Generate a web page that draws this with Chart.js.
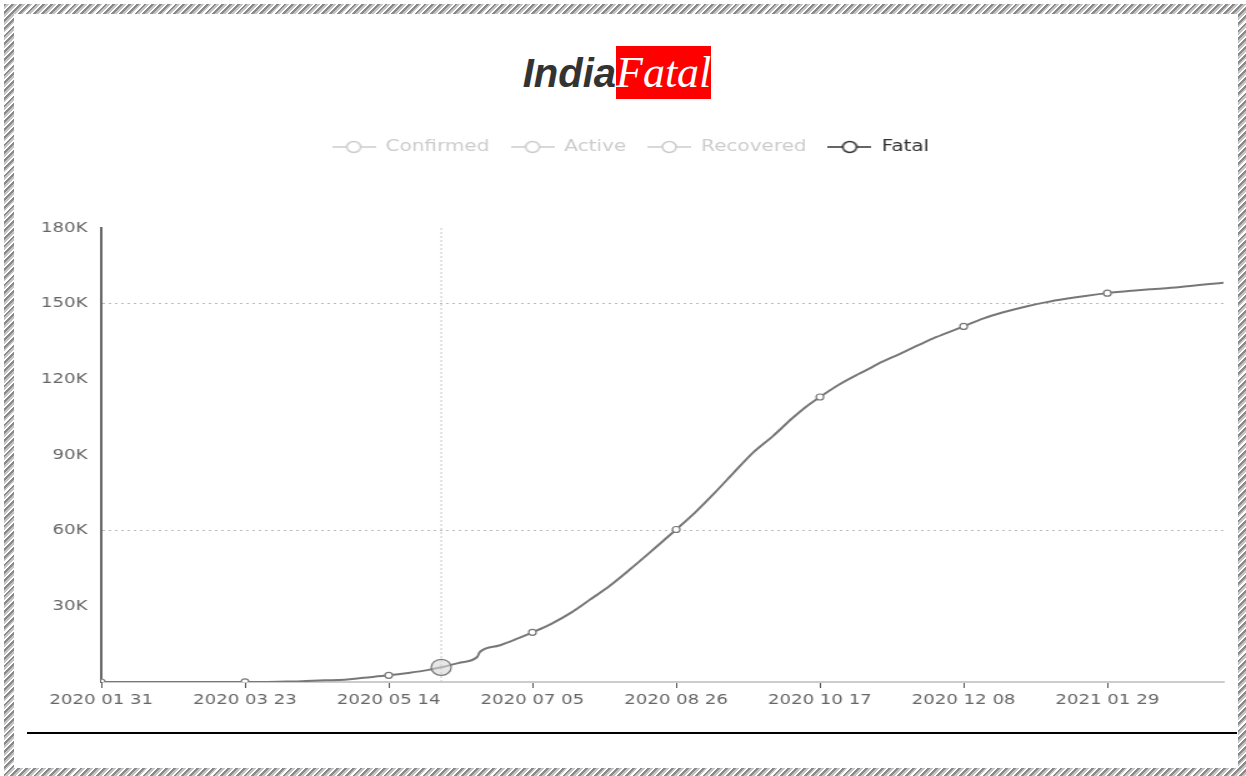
<!DOCTYPE html>
<html><head><meta charset="utf-8">
<script src="https://cdn.jsdelivr.net/npm/chart.js@4.4.1/dist/chart.umd.min.js"></script>
<style>
html,body{margin:0;padding:0;width:1246px;height:776px;overflow:hidden;background:#fff;}
#frame{position:absolute;left:4px;top:4px;width:1242px;height:772px;background:repeating-linear-gradient(135deg,#8a8a8a 0 2px,#c4c4c4 2px 4px,#fff 4px 5.5px);}
#inner{position:absolute;left:10px;top:10px;right:8px;bottom:8px;background:#fff;}
#title{position:absolute;left:-6px;top:46px;width:1246px;text-align:center;height:53px;line-height:53px;white-space:nowrap;}
#title .a{font:italic bold 40px "Liberation Sans",Arial,sans-serif;color:#333;}
#title .b{display:inline-block;font:italic 44px "Liberation Serif","Times New Roman",serif;color:#fff;background:#f00;line-height:53px;}
#rule{position:absolute;left:27px;top:732px;width:1210px;height:2px;background:#000;}
#wrap{position:absolute;left:0;top:0;width:997px;height:776px;transform-origin:0 0;transform:scaleX(1.2497);}
</style></head>
<body>
<div id="frame"><div id="inner"></div></div>
<div id="title"><span class="a">India</span><span class="b">Fatal</span></div>
<div id="rule"></div>
<div id="wrap"><canvas id="c" width="997" height="776"></canvas></div>
<script>
// ---- data ----
const seriesNames = ['Confirmed', 'Active', 'Recovered', 'Fatal'];
const legendColors = ['#cccccc', '#cccccc', '#cccccc', '#333333'];
// day offsets from 2020-01-31
const days = [0,20,30,41,52,60,67,74,81,88,95,104,111,118,123,130,136,137,144,151,156,163,170,177,184,191,198,208,215,222,229,236,243,250,255,260,267,274,278,281,288,295,302,312,319,326,335,342,349,356,364,373,380,387,394,401,406];
const fatal = [0,0,0,1,10,49,149,377,645,939,1693,2649,3583,4706,5829,7745,9915,11903,14476,17400,19693,23174,27497,32771,38161,44386,50921,60472,67376,75062,83198,91149,97497,104555,109150,112998,117956,122111,124315,126121,129635,133227,136696,140994,144096,146476,148994,150606,151918,153076,154178,155114,155732,156302,157051,157754,158306];
const xTickLabels = ['2020 01 31','2020 03 23','2020 05 14','2020 07 05','2020 08 26','2020 10 17','2020 12 08','2021 01 29'];
const xTickStep = 52;
const xMax = 406;
const yTickLabels = ['', '30K', '60K', '90K', '120K', '150K', '180K'];
const yTickStep = 30000;
const yMax = 180000;
const yGridShown = [150000, 60000];
const hoverDay = 123;

function makeIcon(color) {
  const c = document.createElement('canvas');
  c.width = 35; c.height = 14;
  const g = c.getContext('2d');
  g.strokeStyle = color; g.lineWidth = 1.5;
  g.beginPath(); g.moveTo(0, 7); g.lineTo(35, 7); g.stroke();
  g.beginPath(); g.arc(17.5, 7, 5.5, 0, Math.PI * 2);
  g.fillStyle = '#fff'; g.fill(); g.stroke();
  return c;
}
const icons = legendColors.map(makeIcon);

const points = days.map((d, i) => ({x: d, y: fatal[i]}));

const layoutFix = {
  id: 'layoutFix',
  beforeInit(chart) {
    const lg = chart.legend;
    if (!lg) return;
    const fit = lg.fit;
    lg.fit = function() { fit.apply(this, arguments); this.height += 63; };
    const draw = lg.draw;
    lg.draw = function() { const c = this.ctx; c.save(); c.translate(15, 0); draw.apply(this, arguments); c.restore(); };
  }
};
const pointer = {
  id: 'pointer',
  beforeDatasetsDraw(chart) {
    const ctx = chart.ctx;
    const x = chart.scales.x.getPixelForValue(hoverDay);
    const {top, bottom} = chart.chartArea;
    ctx.save();
    ctx.strokeStyle = '#c8c8c8'; ctx.lineWidth = 1; ctx.setLineDash([2, 2]);
    ctx.beginPath(); ctx.moveTo(x, top); ctx.lineTo(x, bottom); ctx.stroke();
    ctx.restore();
  }
};

new Chart(document.getElementById('c'), {
  type: 'line',
  data: {
    datasets: [
      {label: seriesNames[0], data: []},
      {label: seriesNames[1], data: []},
      {label: seriesNames[2], data: []},
      {
        label: seriesNames[3],
        data: points,
        borderColor: '#777777',
        borderWidth: 2,
        cubicInterpolationMode: 'monotone',
        pointRadius: (c) => { const d = c.raw && c.raw.x; if (d === hoverDay) return 8; return d % xTickStep === 0 ? 3 : 0; },
        pointBackgroundColor: (c) => (c.raw && c.raw.x === hoverDay) ? 'rgba(215,215,215,0.6)' : '#ffffff',
        pointBorderColor: '#777777',
        pointBorderWidth: 1.2,
        fill: false
      }
    ]
  },
  options: {
    responsive: false,
    animation: false,
    events: [],
    layout: {padding: {top: 122, right: 18, bottom: 0, left: 0}},
    plugins: {
      tooltip: {enabled: false},
      legend: {
        display: true, position: 'top', align: 'center',
        onClick: () => {},
        labels: {
          usePointStyle: true, pointStyleWidth: 35, padding: 17,
          font: {family: 'DejaVu Sans', size: 16},
          generateLabels: (chart) => chart.data.datasets.map((ds, i) => ({
            text: ds.label, fontColor: legendColors[i], pointStyle: icons[i],
            hidden: false, datasetIndex: i, lineWidth: 0,
            strokeStyle: 'rgba(0,0,0,0)', fillStyle: 'rgba(0,0,0,0)'
          }))
        }
      }
    },
    scales: {
      x: {
        type: 'linear', min: 0, max: xMax,
        afterFit: (s) => { s.height = 94; },
        ticks: {
          stepSize: xTickStep, includeBounds: false, autoSkip: false, maxRotation: 0,
          callback: (v) => { const k = v / xTickStep; return Number.isInteger(k) && xTickLabels[k] !== undefined ? xTickLabels[k] : ''; },
          color: '#666', font: {family: 'DejaVu Sans', size: 14.5}, padding: 4
        },
        grid: {drawOnChartArea: false, drawTicks: true, tickLength: 6, color: '#555', lineWidth: 1},
        border: {color: '#cccccc', width: 2}
      },
      y: {
        min: 0, max: yMax,
        afterFit: (s) => { s.width = 81; },
        ticks: {
          stepSize: yTickStep,
          callback: (v) => { const k = Math.round(v / yTickStep); return yTickLabels[k] !== undefined ? yTickLabels[k] : ''; },
          color: '#666', font: {family: 'DejaVu Sans', size: 14.5}, padding: 11
        },
        grid: {
          drawTicks: false,
          color: (c) => (c.tick && yGridShown.includes(c.tick.value)) ? '#bbbbbb' : 'rgba(0,0,0,0)',
          lineWidth: 1
        },
        border: {color: '#666666', width: 2, dash: [2, 3]}
      }
    }
  },
  plugins: [layoutFix, pointer]
});
</script>
</body></html>
